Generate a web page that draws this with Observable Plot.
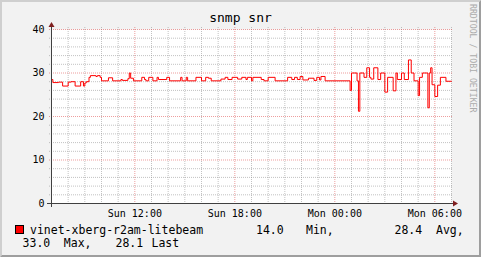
<!DOCTYPE html>
<html><head><meta charset="utf-8">
<script src="https://cdn.jsdelivr.net/npm/d3@7"></script>
<script src="https://cdn.jsdelivr.net/npm/@observablehq/plot@0.6"></script>
<style>
html,body{margin:0;padding:0;background:#f2f2f2;overflow:hidden;}
svg{display:block;}
</style>
</head><body><div id="chart"></div>
<script>
// ---- data ----
const chartTitle = "snmp snr";
const seriesName = "vinet-xberg-r2am-litebeam";
const watermark = "RRDTOOL / TOBI OETIKER";
const startTime = Date.UTC(2023, 0, 1, 7, 0); // Sunday 07:00
const spanHours = 24;
// step series: minutes after start, SNR value holding from that minute
const minutes = [0,5,25,40,60,70,85,105,115,120,125,135,140,160,165,175,180,205,220,250,
  255,275,280,285,295,325,335,340,350,365,380,385,415,425,465,470,485,490,520,540,
  555,565,575,610,625,635,650,670,685,700,705,720,725,755,765,780,805,850,865,875,
  885,895,905,925,945,955,965,970,985,1075,1080,1100,1105,1110,1125,1135,1145,1150,1160,1175,
  1185,1200,1210,1230,1240,1245,1260,1270,1285,1295,1305,1320,1325,1335,1355,1360,1365,1370,1380,1390,
  1400,1420];
const snr = [28.5,27.8,27.9,27.0,27.9,28.0,27.0,28.0,27.0,27.7,28.0,29.0,29.4,29.2,29.4,29.0,28.2,28.9,28.2,28.5,
  28.3,28.7,30.0,28.8,28.2,29.0,28.5,28.2,29.0,28.2,29.0,28.5,29.0,28.2,29.0,28.2,29.0,28.2,29.0,28.2,
  29.0,28.8,28.2,28.6,29.0,28.5,29.0,28.6,29.0,28.5,29.0,28.2,29.0,28.5,28.2,29.0,28.2,29.0,28.5,29.0,
  28.5,29.2,28.4,28.8,28.3,29.0,28.4,29.2,28.2,26.0,30.0,28.2,21.2,30.0,29.0,31.2,29.0,28.6,31.2,28.5,
  30.0,25.6,29.0,25.9,30.0,28.5,30.0,28.5,33.0,30.0,28.2,24.8,29.0,30.0,22.0,30.0,31.2,27.3,24.6,27.2,
  29.0,28.1];
const yTicks = [0, 10, 20, 30, 40];
const yMinor = [2,4,6,8,12,14,16,18,22,24,26,28,32,34,36,38];
const xTickHours = [5, 11, 17, 23];
const xTickLabels = ["Sun 12:00", "Sun 18:00", "Mon 00:00", "Mon 06:00"];
const statLabels = ["Min,", "Avg,", "Max,", "Last"];
const statValues = ["14.0", "28.4", "33.0", "28.1"];

// ---- build ----
const H = 3600000;
const data = minutes.map((m, i) => ({t: new Date(startTime + m * 60000), v: snr[i]}));
data.push({t: new Date(startTime + spanHours * H), v: snr[snr.length - 1]});
const allHours = d3.range(1, spanHours + 1);
const majorHours = xTickHours.map(h => new Date(startTime + h * H));
const minorHours = allHours.filter(h => !xTickHours.includes(h)).map(h => new Date(startTime + h * H));
const labelFor = d => xTickLabels[xTickHours.indexOf(Math.round((+d - startTime) / H))];

const font = "'DejaVu Sans Mono', monospace";
const chart = Plot.plot({
  width: 481, height: 257,
  marginLeft: 51, marginRight: 30, marginTop: 29, marginBottom: 54,
  style: {background: "#f2f2f2", fontFamily: font, fontSize: "10px", color: "#000", overflow: "visible"},
  x: {type: "utc", domain: [new Date(startTime), new Date(startTime + spanHours * H)], axis: null},
  y: {domain: [0, 40], axis: null},
  marks: [
    Plot.frame({fill: "#ffffff", stroke: null}),
    Plot.ruleY(yMinor, {stroke: "#8f8f8f", strokeOpacity: 0.55, strokeDasharray: "1,1", insetLeft: -2, insetRight: -2}),
    Plot.ruleX(minorHours, {stroke: "#8f8f8f", strokeOpacity: 0.55, strokeDasharray: "1,1", insetTop: -2, insetBottom: -2}),
    Plot.ruleY(yTicks.filter(d => d > 0), {stroke: "#de4f4f", strokeOpacity: 0.55, strokeDasharray: "1,1", insetLeft: -2, insetRight: -2}),
    Plot.ruleX(majorHours, {stroke: "#de4f4f", strokeOpacity: 0.55, strokeDasharray: "1,1", insetTop: -2, insetBottom: -2}),
    Plot.line(data, {x: "t", y: "v", curve: "step-after", stroke: "#ff0000", strokeWidth: 1}),
    Plot.axisY(yTicks, {tickSize: 0, tickPadding: 7, fontSize: 10, label: null}),
    Plot.axisX(majorHours, {tickSize: 0, tickPadding: 6, fontSize: 10, label: null, tickFormat: labelFor})
  ]
});
document.getElementById("chart").appendChild(chart);

// ---- decorations (RRD style) ----
const svg = d3.select(chart);
const xs = chart.scale("x"), ys = chart.scale("y");
const x0 = xs.apply(new Date(startTime)), x1 = xs.apply(new Date(startTime + spanHours * H));
const y0 = ys.apply(0), y1 = ys.apply(40);
const deco = svg.append("g").attr("text-anchor", "start");
// axes
deco.append("line").attr("x1", x0 - 4).attr("x2", x1 + 4).attr("y1", y0 + 0.5).attr("y2", y0 + 0.5)
  .attr("stroke", "#404040").attr("stroke-width", 1);
deco.append("line").attr("x1", x0 + 0.5).attr("x2", x0 + 0.5).attr("y1", y0 + 4).attr("y2", y1 - 4)
  .attr("stroke", "#404040").attr("stroke-width", 1);
// arrows
deco.append("polygon").attr("points", `${x1 + 2},${y0 - 2.5} ${x1 + 2},${y0 + 3.5} ${x1 + 7},${y0 + 0.5}`).attr("fill", "#801f1f");
deco.append("polygon").attr("points", `${x0 - 2.5},${y1 - 2} ${x0 + 3.5},${y1 - 2} ${x0 + 0.5},${y1 - 7}`).attr("fill", "#801f1f");
// border
const W = 481, Hh = 257;
deco.append("polygon").attr("points", `0,${Hh} 2,${Hh - 2} 2,2 ${W - 2},2 ${W},0 0,0`).attr("fill", "#cfcfcf");
deco.append("polygon").attr("points", `2,${Hh - 2} ${W - 2},${Hh - 2} ${W - 2},2 ${W},0 ${W},${Hh} 0,${Hh}`).attr("fill", "#9e9e9e");
// title
deco.append("text").attr("x", W / 2).attr("y", 22).attr("text-anchor", "middle")
  .attr("font-family", font).attr("font-size", 13).attr("fill", "#000").text(chartTitle);
// watermark
deco.append("text").attr("transform", "translate(469.5,4) rotate(90)").attr("text-anchor", "start")
  .attr("font-family", font).attr("font-size", 8.2).attr("fill", "#ababab").text(watermark);
// legend
deco.append("rect").attr("x", 15.5).attr("y", 225.5).attr("width", 8).attr("height", 8)
  .attr("fill", "#ff0000").attr("stroke", "#000").attr("stroke-width", 1);
const legendItems = [
  {s: seriesName, x: 30, y: 234},
  {s: statValues[0], x: 256, y: 234}, {s: statLabels[0], x: 306, y: 234},
  {s: statValues[1], x: 394.5, y: 234}, {s: statLabels[1], x: 436, y: 234},
  {s: statValues[2], x: 22.6, y: 247}, {s: statLabels[2], x: 63.8, y: 247},
  {s: statValues[3], x: 115.5, y: 247}, {s: statLabels[3], x: 151.5, y: 247}
];
deco.selectAll("text.leg").data(legendItems).join("text").attr("class", "leg")
  .attr("x", d => d.x).attr("y", d => d.y).attr("text-anchor", "start")
  .attr("font-family", font).attr("font-size", 11.5)
  .attr("fill", "#000").text(d => d.s);
</script>
</body></html>
